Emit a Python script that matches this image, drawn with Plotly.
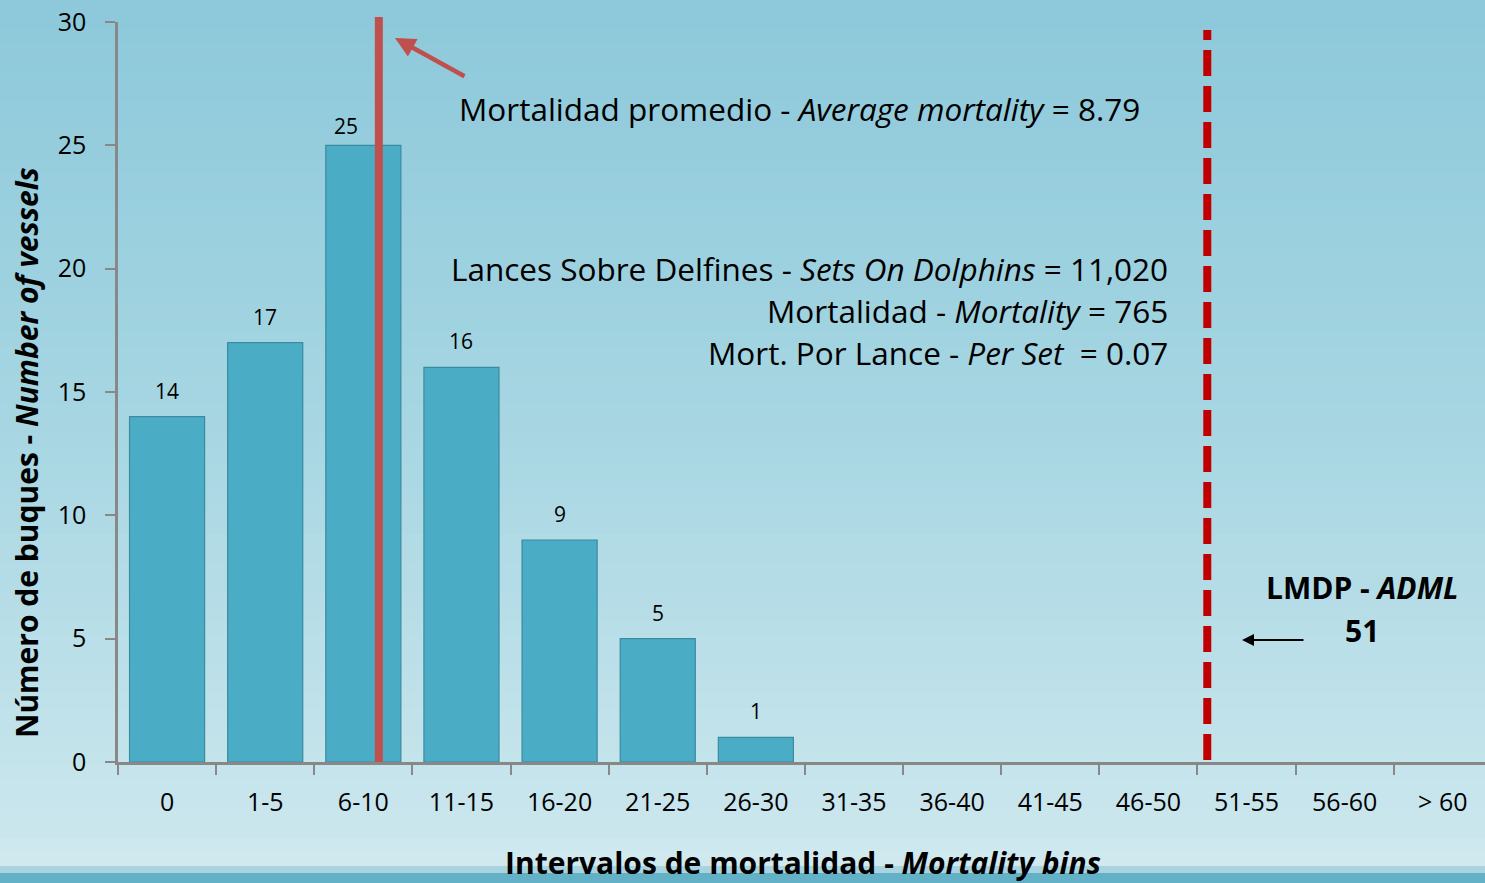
import plotly.graph_objects as go
import numpy as np

# ---------------- data ----------------
categories = ["0", "1-5", "6-10", "11-15", "16-20", "21-25", "26-30",
              "31-35", "36-40", "41-45", "46-50", "51-55", "56-60", "> 60"]
bin_low = [0, 1, 6, 11, 16, 21, 26, 31, 36, 41, 46, 51, 56, 61]
vessels = [14, 17, 25, 16, 9, 5, 1, 0, 0, 0, 0, 0, 0, 0]
average_mortality = 8.79
adml = 51
sets_on_dolphins = "11,020"
total_mortality = "765"
mort_per_set = "0.07"

# ---------------- geometry helpers ----------------
W, H = 1485, 883
L, R, T, B = 118, 0, 22, 121
PW, PH = W - L - R, H - T - B


def px(xp):
    return (xp - L) / PW


def py(yp):
    return (H - B - yp) / PH


def value_to_catpos(v):
    # position of a mortality value on the category axis (bins of width 5)
    for i in range(len(bin_low) - 1):
        lo, hi = bin_low[i] - 0.5, bin_low[i + 1] - 0.5
        if lo <= v < hi:
            return i - 0.5 + (v - lo) / (hi - lo)
    return len(bin_low) - 1


FONT = "'Open Sans', Lato, sans-serif"

fig = go.Figure()
fig.add_trace(go.Bar(
    x=categories,
    y=[v if v > 0 else None for v in vessels],
    marker=dict(color="#4BACC6", line=dict(color="#3A8AA0", width=1.2)),
    width=0.765,
    hoverinfo="x+y",
))

shapes = []
# background gradient (paper)
stops_y = [0, 440, 830, 866]
stops_c = [(0x8D, 0xC9, 0xDB), (0xA8, 0xD7, 0xE3), (0xCB, 0xE7, 0xEE), (0xD2, 0xEA, 0xF0)]
N = 60
edges = np.linspace(0, 866, N + 1)
for k in range(N):
    ym = (edges[k] + edges[k + 1]) / 2
    c = [int(np.interp(ym, stops_y, [s[j] for s in stops_c])) for j in range(3)]
    shapes.append(dict(type="rect", xref="paper", yref="paper", layer="below",
                       x0=-0.1, x1=1.05, y0=py(edges[k + 1] + 0.6), y1=py(edges[k]),
                       fillcolor=f"rgb({c[0]},{c[1]},{c[2]})", line=dict(width=0)))
shapes.append(dict(type="rect", xref="paper", yref="paper", layer="below",
                   x0=-0.1, x1=1.05, y0=py(873), y1=py(866),
                   fillcolor="#A9D3DE", line=dict(width=0)))
shapes.append(dict(type="rect", xref="paper", yref="paper", layer="below",
                   x0=-0.1, x1=1.05, y0=py(884), y1=py(873),
                   fillcolor="#62B1C6", line=dict(width=0)))

# average mortality line
xm = value_to_catpos(average_mortality)
shapes.append(dict(type="line", xref="x", yref="paper", x0=xm, x1=xm,
                   y0=0, y1=py(17), line=dict(color="#C0504D", width=8)))
# ADML dashed line
xa = value_to_catpos(adml)
shapes.append(dict(type="line", xref="x", yref="paper", x0=xa, x1=xa,
                   y0=py(760), y1=py(30),
                   line=dict(color="#C00000", width=8, dash="26px,10px")))

annotations = []
# bar value labels
for c, v in zip(categories, vessels):
    if v > 0:
        is_max = v == max(vessels)
        annotations.append(dict(x=c, y=v, xref="x", yref="y", text=str(v),
                                showarrow=False, yanchor="bottom",
                                yshift=3 if is_max else 10,
                                xshift=-17 if is_max else 0,
                                font=dict(size=21, color="black", family=FONT)))

txt_font = dict(size=31.5, color="black", family=FONT)
annotations += [
    dict(xref="paper", yref="paper", x=px(457), y=py(108), xanchor="left", yanchor="middle",
         text=f"Mortalidad promedio - <i>Average mortality</i> = {average_mortality}",
         showarrow=False, font=txt_font),
    dict(xref="paper", yref="paper", x=px(1170), y=py(268), xanchor="right", yanchor="middle",
         text=f"Lances Sobre Delfines - <i>Sets On Dolphins</i> = {sets_on_dolphins}",
         showarrow=False, font=txt_font),
    dict(xref="paper", yref="paper", x=px(1170), y=py(310), xanchor="right", yanchor="middle",
         text=f"Mortalidad - <i>Mortality</i> = {total_mortality}",
         showarrow=False, font=txt_font),
    dict(xref="paper", yref="paper", x=px(1170), y=py(352), xanchor="right", yanchor="middle",
         text=f"Mort. Por Lance - <i>Per Set</i>  = {mort_per_set}",
         showarrow=False, font=txt_font),
    dict(xref="paper", yref="paper", x=px(1362), y=py(587), xanchor="center", yanchor="middle",
         text="<b>LMDP - <i>ADML</i></b>", showarrow=False, font=dict(size=30, color="black", family=FONT)),
    dict(xref="paper", yref="paper", x=px(1362), y=py(630), xanchor="center", yanchor="middle",
         text=f"<b>{adml}</b>", showarrow=False, font=dict(size=30, color="black", family=FONT)),
    # black arrow
    dict(xref="paper", yref="paper", x=px(1242), y=py(640), ax=63, ay=0, text="",
         showarrow=True, arrowhead=2, arrowsize=1.2, arrowwidth=2, arrowcolor="black"),
    # red arrow pointing to average line
    dict(xref="paper", yref="paper", x=px(395), y=py(38), ax=71, ay=39, text="",
         showarrow=True, arrowhead=2, arrowsize=0.9, arrowwidth=4.5, arrowcolor="#C0504D"),
    # axis titles
    dict(xref="paper", yref="paper", x=px(27), y=py(453), xanchor="center", yanchor="middle",
         textangle=-90, text="<b>Número de buques - <i>Number of vessels</i></b>",
         showarrow=False, font=dict(size=30, color="black", family=FONT)),
    dict(xref="paper", yref="paper", x=px(803), y=py(862), xanchor="center", yanchor="middle",
         text="<b>Intervalos de mortalidad - <i>Mortality bins</i></b>",
         showarrow=False, font=dict(size=30, color="black", family=FONT)),
]

fig.update_layout(
    width=W, height=H, autosize=False,
    margin=dict(l=L, r=R, t=T, b=B, pad=0),
    paper_bgcolor="#A8D7E3", plot_bgcolor="rgba(0,0,0,0)",
    showlegend=False,
    shapes=shapes, annotations=annotations,
    font=dict(family=FONT, color="black"),
    xaxis=dict(type="category", categoryorder="array", categoryarray=categories,
               range=[-0.5, 13.43], tickson="boundaries", ticks="outside", ticklen=10,
               tickwidth=2, tickcolor="#888888", showline=True, linecolor="#888888",
               linewidth=2.5, showgrid=False, zeroline=False,
               tickfont=dict(size=25, color="black", family=FONT), ticklabelstandoff=16),
    yaxis=dict(range=[0, 30], dtick=5, ticks="outside", ticklen=10, tickwidth=2,
               tickcolor="#888888", showline=True, linecolor="#888888", linewidth=2.5,
               showgrid=False, zeroline=False,
               tickfont=dict(size=25, color="black", family=FONT), ticklabelstandoff=14),
)

fig.write_html("out.html", config={"displayModeBar": False},
               post_script="document.body.style.margin='0';document.body.style.overflow='hidden';")
